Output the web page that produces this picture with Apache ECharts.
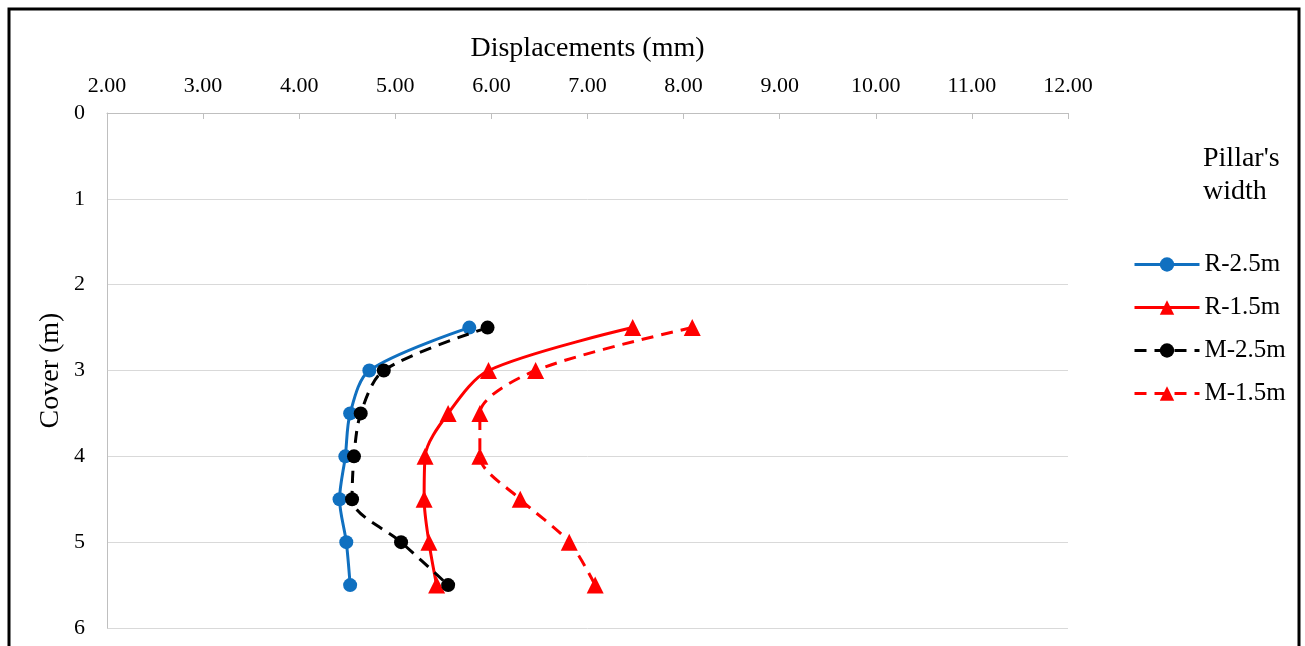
<!DOCTYPE html>
<html>
<head>
<meta charset="utf-8">
<script src="https://cdn.jsdelivr.net/npm/echarts@6/dist/echarts.min.js"></script>
<style>html,body{margin:0;padding:0;background:#fff}#c{width:1305px;height:646px}</style>
</head>
<body>
<div id="c"></div>
<script>
const depths = [2.5, 3, 3.5, 4, 4.5, 5, 5.5];
const r25 = [5.77, 4.73, 4.53, 4.48, 4.42, 4.49, 4.53];
const r15 = [7.47, 5.97, 5.55, 5.31, 5.30, 5.35, 5.43];
const m25 = [5.96, 4.88, 4.64, 4.57, 4.55, 5.06, 5.55];
const m15 = [8.09, 6.46, 5.88, 5.88, 6.30, 6.81, 7.08];
const seriesNames = ['R-2.5m', 'R-1.5m', 'M-2.5m', 'M-1.5m'];
const xTicks = {min: 2, max: 12, interval: 1};
const yTicks = {min: 0, max: 6, interval: 1};

const font = 'Liberation Serif';
const pairs = arr => arr.map((v, i) => [v, depths[i]]);

const chart = echarts.init(document.getElementById('c'));
const mk = (name, data, color, symbol, dashed, size) => ({
  name, type: 'line', data: pairs(data), smooth: 0.3,
  symbol, symbolSize: size,
  itemStyle: {color},
  lineStyle: {color, width: 3, type: dashed ? [12, 8] : 'solid'},
  z: dashed ? 3 : 2
});
chart.setOption({
  animation: false,
  grid: {left: 107, right: 237, top: 113, bottom: 18},
  xAxis: {
    type: 'value', position: 'top', min: xTicks.min, max: xTicks.max, interval: xTicks.interval,
    name: 'Displacements (mm)', nameLocation: 'middle', nameGap: 50, nameMoveOverlap: false,
    nameTextStyle: {fontFamily: font, fontSize: 28, color: '#000'},
    axisLine: {show: true, lineStyle: {color: '#bfbfbf', width: 1}},
    axisTick: {show: true, inside: true, length: 6, lineStyle: {color: '#bfbfbf'}},
    axisLabel: {fontFamily: font, fontSize: 22, color: '#000', margin: 16, formatter: v => v.toFixed(2)},
    splitLine: {show: false}
  },
  yAxis: {
    type: 'value', inverse: true, min: yTicks.min, max: yTicks.max, interval: yTicks.interval,
    name: 'Cover (m)', nameLocation: 'middle', nameGap: 42, nameMoveOverlap: false,
    nameTextStyle: {fontFamily: font, fontSize: 28, color: '#000'},
    axisLine: {show: true, lineStyle: {color: '#bfbfbf', width: 1}},
    axisTick: {show: false},
    axisLabel: {fontFamily: font, fontSize: 22, color: '#000', margin: 22},
    splitLine: {show: true, lineStyle: {color: '#d9d9d9', width: 1}}
  },
  legend: {
    orient: 'vertical', left: 1133, top: 252, padding: 0,
    itemWidth: 65, itemHeight: 18, itemGap: 18,
    data: seriesNames,
    lineStyle: {width: 3},
    textStyle: {fontFamily: font, fontSize: 25, lineHeight: 25, color: '#000'}
  },
  graphic: [
    {type: 'text', left: 1203, top: 142, style: {text: "Pillar's\nwidth", fontFamily: font, fontSize: 28, fill: '#000', lineHeight: 33}},
    {type: 'rect', shape: {x: 9, y: 9, width: 1290, height: 660}, style: {fill: 'none', stroke: '#000', lineWidth: 3}, silent: true}
  ],
  series: [
    mk(seriesNames[0], r25, '#1070C0', 'circle', false, 14),
    mk(seriesNames[1], r15, '#FF0000', 'triangle', false, 17),
    mk(seriesNames[2], m25, '#000000', 'circle', true, 14),
    mk(seriesNames[3], m15, '#FF0000', 'triangle', true, 17)
  ]
});
</script>
</body>
</html>
